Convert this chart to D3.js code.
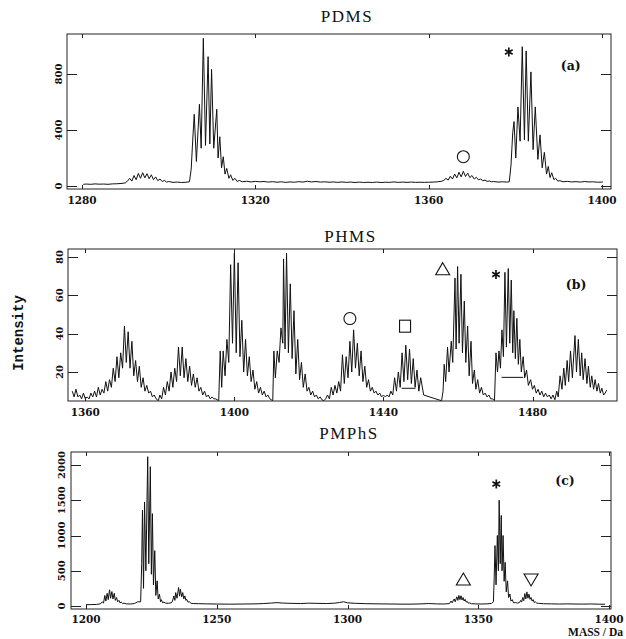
<!DOCTYPE html>
<html><head><meta charset="utf-8">
<script src="https://cdn.jsdelivr.net/npm/d3@7"></script>
<style>body{margin:0;background:#fff}svg{display:block}</style>
</head><body>
<svg id="chart" width="626" height="639"></svg>
<script>
// ---------- DATA (mass [Da], intensity) ----------
const pdmsSpectrum = [
[1280.3,12],[1281,14],[1282,12],[1283,15],[1284,13],[1285,14],[1286,12],[1287,15],[1288,16],[1289,18],[1290,22],
[1290.5,35],[1291,55],[1291.5,35],[1292,75],[1292.5,45],[1293,90],[1293.5,55],[1294,95],[1294.5,58],[1295,88],[1295.5,52],
[1296,80],[1296.5,45],[1297,65],[1297.5,38],[1298,50],[1298.5,32],[1299,40],[1299.5,28],[1300,32],[1301,26],[1302,28],[1303,25],[1304,27],
[1304.8,30],[1305.2,120],[1305.5,300],[1305.9,512],[1306.4,175],[1307.1,584],[1307.5,270],[1308.0,1055],[1308.5,290],[1309.1,924],
[1309.5,300],[1309.9,833],[1310.4,270],[1311.1,548],[1311.4,200],[1311.8,352],[1312.2,130],[1312.6,209],[1313.0,85],[1313.4,126],
[1313.9,55],[1314.3,80],[1314.8,40],[1315.3,55],[1315.8,32],[1316.3,40],
[1317,30],[1318,34],[1319,29],[1320,33],[1321,30],[1322,32],[1323,28],[1324,31],[1325,27],[1326,30],[1327,26],[1328,29],[1329,27],
[1330,31],[1331,28],[1332,34],[1333,29],[1334,32],[1335,28],[1336,30],[1337,27],[1338,29],[1339,26],[1340,29],[1341,26],[1342,28],
[1343,25],[1344,28],[1345,25],[1346,27],[1347,25],[1348,28],[1349,25],[1350,27],[1351,26],[1352,29],[1353,26],[1354,28],[1355,26],
[1356,28],[1357,26],[1358,27],[1359,26],[1360,27],[1361,28],[1362,30],[1363,34],
[1363.5,40],[1364,55],[1364.5,42],[1365,70],[1365.5,50],[1366,85],[1366.5,58],[1367,98],[1367.5,65],[1368,105],[1368.5,68],[1369,92],
[1369.5,60],[1370,75],[1370.5,50],[1371,62],[1371.5,44],[1372,50],[1372.5,38],[1373,42],[1373.5,33],[1374,36],[1374.5,30],[1375,32],
[1376,28],[1377,30],[1378,28],[1378.6,30],
[1379.0,150],[1379.4,380],[1379.7,460],[1380.1,200],[1380.6,565],[1381.1,320],[1381.6,995],[1382.1,330],[1382.5,965],[1383.0,320],
[1383.6,815],[1384.1,260],[1384.6,565],[1385.2,190],[1385.7,365],[1386.2,130],[1386.7,240],[1387.2,85],[1387.6,140],[1388.0,60],
[1388.4,95],[1388.9,45],[1389.3,55],[1389.8,35],[1390.3,38],[1391,30],[1392,33],[1393,29],[1394,31],[1395,28],[1396,32],[1397,29],
[1398,30],[1399,27],[1400,28],[1400.2,30]
];

const phmsSpectrum = [
[1356.5,10],[1357,7],[1357.5,11],[1358,7],[1358.5,8],[1359,6],[1359.5,9],[1360,6],[1360.5,7],[1361,6],[1361.5,9],[1362,7],
[1362.5,10],[1363,7],[1363.5,12],[1364,8],[1364.5,11],[1365,9],[1365.5,15],[1366,10],[1366.5,16],[1367,12],[1367.5,22],[1368,15],
[1368.5,28],[1369,17],[1369.5,30],[1370,22],[1370.5,44],[1371,25],[1371.5,41],[1372,22],[1372.5,36],[1373,18],[1373.5,26],[1374,15],
[1374.5,23],[1375,12],[1375.5,17],[1376,10],[1376.5,13],[1377,9],[1377.5,10],[1378,7],[1378.5,8],[1379,6],[1379.6,5],
[1380,8],[1380.5,6],[1381,12],[1381.5,8],[1382,15],[1382.5,10],[1383,20],[1383.5,12],[1384,22],[1384.5,15],[1385,33],[1385.5,18],
[1386,33],[1386.5,17],[1387,27],[1387.5,15],[1388,23],[1388.5,13],[1389,19],[1389.5,12],[1390,17],[1390.5,10],[1391,12],[1391.5,8],
[1392,10],[1392.5,7],[1393,8],[1393.5,6],[1394,7],[1394.5,6],[1395,6],[1395.8,5],
[1396.2,31],[1396.6,12],[1397,31],[1397.5,18],[1398,37],[1398.5,25],[1399,76],[1399.5,35],[1400,82],[1400.5,30],[1401,77],[1401.5,28],
[1402,47],[1402.5,20],[1403,37],[1403.5,18],[1404,28],[1404.5,15],[1405,21],[1405.5,11],[1406,15],[1406.5,9],[1407,12],[1407.5,8],
[1408,10],[1408.5,7],[1409,8],[1409.5,6],[1410.3,5],
[1410.6,31],[1411,17],[1411.5,31],[1412,25],[1412.5,43],[1413,35],[1413.2,79],[1413.6,32],[1414,82],[1414.5,30],[1415,66],[1415.5,27],
[1416,52],[1416.5,19],[1417,37],[1417.5,16],[1418,25],[1418.5,12],[1419,19],[1419.5,10],[1420,12],[1420.5,8],[1421,10],[1421.5,7],
[1422,8],[1422.5,6],[1423,7],[1423.5,5.5],[1424,5],
[1424.5,6],[1425,8],[1425.5,6],[1426,12],[1426.5,8],[1427,13],[1427.5,9],[1428,15],[1428.5,10],[1429,29],[1429.5,14],[1430,28],
[1430.5,17],[1431,36],[1431.5,20],[1432,42],[1432.5,22],[1433,35],[1433.5,18],[1434,31],[1434.5,15],[1435,23],[1435.5,12],[1436,16],
[1436.5,10],[1437,12],[1437.5,9],[1438,10],[1438.5,8],[1439,9],[1439.5,7],[1440,8],[1440.5,7],[1441,8],[1441.5,7],
[1442,10],[1442.5,8],[1443,17],[1443.5,10],[1444,20],[1444.5,12],[1445,30],[1445.5,15],[1446,34],[1446.5,16],[1447,32],[1447.5,14],
[1448,27],[1448.5,12],[1449,21],[1449.5,10],[1450,17],[1450.8,8],[1455.6,5],
[1456.0,10],[1456.3,24],[1456.7,15],[1457.2,33],[1457.6,20],[1458.2,36],[1458.6,25],[1459.2,69],[1459.5,32],[1459.9,75],[1460.3,35],
[1460.8,71],[1461.2,30],[1461.7,57],[1462.1,25],[1462.6,44],[1463.0,18],[1463.5,36],[1463.9,14],[1464.4,21],[1464.8,11],[1465.3,16],
[1465.8,9],[1466.3,12],[1466.8,8],[1467.3,9],[1467.8,7],[1468.3,8],[1468.8,6],[1469.3,6],[1469.8,5],
[1470.2,30],[1470.6,20],[1471.0,31],[1471.4,22],[1471.8,42],[1472.2,28],[1472.6,72],[1473.0,33],[1473.5,74],[1473.9,35],[1474.3,68],
[1474.7,30],[1475.0,52],[1475.4,27],[1475.8,48],[1476.2,24],[1476.6,37],[1477.0,20],[1477.5,28],[1477.9,17],[1478.4,21],[1478.9,13],
[1479.5,16],[1480.0,11],[1480.5,13],[1481.0,9],[1481.5,11],[1482.0,8],[1482.5,10],[1483,7],[1483.5,9],[1484,7],[1484.5,8],[1485,6],
[1485.5,8],[1486,5.5],
[1486.5,10],[1486.9,7],[1487.4,18],[1487.9,11],[1488.4,22],[1488.8,13],[1489.3,26],[1489.7,15],[1490.2,31],[1490.7,17],[1491.4,39],
[1491.8,20],[1492.3,37],[1492.8,18],[1493.2,30],[1493.6,16],[1494.1,27],[1494.6,14],[1495.0,23],[1495.5,12],[1495.9,18],[1496.4,11],
[1496.8,16],[1497.3,10],[1497.7,14],[1498.2,9],[1498.6,11.5],[1499.1,8],[1499.5,9],[1499.9,10.5]
];
const phmsBrackets = [
[[1444.9,11.5],[1448.6,11.5]],
[[1471.7,17.2],[1477.5,17.2]]
];

const pmphsSpectrum = [
[1200,18],[1202,20],[1204,22],[1205.5,30],
[1206.3,60],[1206.7,40],[1207.2,150],[1207.6,70],[1208.1,180],[1208.5,90],[1209.0,230],[1209.4,110],[1209.9,205],[1210.3,100],
[1210.8,180],[1211.2,80],[1211.7,120],[1212.1,60],[1212.6,80],[1213.0,45],[1213.5,55],[1214,35],[1214.5,40],[1215.5,30],[1217,28],
[1218.5,35],[1219.8,60],[1220.9,60],[1221.3,600],[1221.6,1357],[1222.0,250],[1222.4,1476],[1222.9,500],[1223.6,2118],[1224.0,600],
[1224.6,1976],[1225.0,450],[1225.4,1310],[1225.8,300],[1226.3,785],[1226.7,150],[1227.2,357],[1227.6,100],[1228.1,167],[1228.5,60],
[1228.8,90],[1229.3,45],[1229.8,55],[1230.5,40],[1231.5,38],[1232.5,45],
[1233.0,60],[1233.6,143],[1234.0,80],[1234.3,190],[1234.8,110],[1235.4,262],[1235.8,140],[1236.1,238],[1236.6,130],[1237.0,190],
[1237.4,100],[1237.8,143],[1238.2,80],[1238.5,95],[1239.0,55],[1239.5,60],[1240.2,38],[1241,35],
[1243,33],[1246,30],[1250,28],[1255,26],[1260,28],[1265,30],[1268,35],[1271,42],[1273,48],[1275,42],[1278,38],[1282,35],[1285,40],
[1288,38],[1292,35],[1295,40],[1297,50],[1298.5,60],[1300,45],[1303,38],[1307,33],[1312,30],[1317,28],[1322,26],[1327,28],[1331,35],
[1334,30],[1337,28],[1339,35],
[1339.6,70],[1340.0,45],[1340.8,100],[1341.2,60],[1341.8,130],[1342.2,80],[1342.6,150],[1343.0,90],[1343.4,145],[1343.8,85],
[1344.2,120],[1344.6,70],[1345.0,95],[1345.4,55],[1345.8,65],[1346.2,40],[1346.6,45],[1347.4,32],[1349,30],[1351,28],[1353,30],
[1355.0,35],[1355.8,60],[1356.1,400],[1356.4,857],[1356.8,300],[1357.3,1000],[1357.7,500],[1358.0,1500],[1358.4,600],[1358.8,1285],
[1359.1,500],[1359.5,1000],[1359.9,350],[1360.3,620],[1360.7,200],[1361.2,357],[1361.6,120],[1362.1,170],[1362.5,70],[1363.0,90],
[1363.5,45],[1364.2,50],[1365,40],
[1365.8,50],[1366.2,80],[1366.6,55],[1367.0,120],[1367.4,75],[1367.8,176],[1368.2,100],[1368.6,200],[1369.0,110],[1369.4,167],
[1369.8,95],[1370.2,120],[1370.6,70],[1371.0,90],[1371.4,50],[1371.8,60],[1372.4,40],[1373,38],
[1375,32],[1378,30],[1381,28],[1384,30],[1387,28],[1390,27],[1393,29],[1396,26],[1398.5,25]
];

// tick values
const pdmsTicksX = [1280,1320,1360,1400];
const pdmsTicksY = [0,400,800];
const phmsTicksX = [1360,1400,1440,1480];
const phmsTicksY = [20,40,60,80];
const pmphsTicksX = [1200,1250,1300,1350,1400];
const pmphsTicksY = [0,500,1000,1500,2000];

// annotation markers [type, mass, intensity]
const pdmsMarkers = [["asterisk",1378.5,957],["circle",1368.0,209]];
const phmsMarkers = [["circle",1431.0,47.9],["square",1445.8,43.9],["triangle",1455.9,73.9],["asterisk",1470.2,70.9]];
const pmphsMarkers = [["asterisk",1356.9,1730],["triangle",1344.3,383],["itriangle",1370.2,369]];

const titles = ["PDMS","PHMS","PMPhS"];
const panelTags = [["(a)",1392.8,864],["(b)",1491.7,66.1],["(c)",1383.2,1787]];

// ---------- LAYOUT ----------
const panels = [
  {data:pdmsSpectrum, tx:pdmsTicksX, ty:pdmsTicksY, markers:pdmsMarkers, tag:panelTags[0], title:titles[0],
   frame:{l:67,r:611,t:34,b:189}, xd:[1280,1400], xr:[82,602], yd:[0,800], yr:[186,74], titleY:22, tickLabX:62, labY:204},
  {data:phmsSpectrum, tx:phmsTicksX, ty:phmsTicksY, markers:phmsMarkers, tag:panelTags[1], title:titles[1], brackets:phmsBrackets,
   frame:{l:68,r:617,t:249,b:401}, xd:[1360,1480], xr:[85.3,532.5], yd:[20,80], yr:[372,257], titleY:242, tickLabX:63, labY:416},
  {data:pmphsSpectrum, tx:pmphsTicksX, ty:pmphsTicksY, markers:pmphsMarkers, tag:panelTags[2], title:titles[2],
   frame:{l:71,r:611,t:452,b:609}, xd:[1200,1400], xr:[86,609], yd:[0,2000], yr:[606,465], titleY:439, tickLabX:65, labY:623}
];

const svg = d3.select("#chart");
const monoFont = "'Liberation Mono','DejaVu Sans Mono',monospace";
const serifFont = "'Liberation Serif','DejaVu Serif',serif";
const tickFont = "'DejaVu Serif','Liberation Serif',serif";

panels.forEach((p,i)=>{
  const x = d3.scaleLinear().domain(p.xd).range(p.xr);
  const y = d3.scaleLinear().domain(p.yd).range(p.yr);
  const f = p.frame;
  const g = svg.append("g");

  // title
  g.append("text").attr("x",(f.l+f.r)/2+8).attr("y",p.titleY)
    .attr("text-anchor","middle").attr("font-family",serifFont).attr("font-size",17)
    .attr("letter-spacing",1.5).attr("fill","#111").text(p.title);

  // clip
  svg.append("clipPath").attr("id","clip"+i).append("rect")
    .attr("x",f.l).attr("y",f.t).attr("width",f.r-f.l).attr("height",f.b-f.t);

  // spectrum line
  const line = d3.line().x(d=>x(d[0])).y(d=>y(d[1]));
  g.append("path").datum(p.data).attr("d",line).attr("fill","none")
    .attr("stroke","#111").attr("stroke-width",1).attr("stroke-linejoin","miter")
    .attr("clip-path","url(#clip"+i+")");

  if(p.brackets){
    p.brackets.forEach(b=>{
      g.append("path").datum(b).attr("d",line).attr("fill","none").attr("stroke","#111").attr("stroke-width",1);
    });
  }

  // frame
  g.append("rect").attr("x",f.l).attr("y",f.t).attr("width",f.r-f.l).attr("height",f.b-f.t)
    .attr("fill","none").attr("stroke","#222").attr("stroke-width",1);

  // y ticks (inside, both sides)
  p.ty.forEach(v=>{
    const yy = Math.round(y(v))+0.5;
    g.append("line").attr("x1",f.l).attr("x2",f.l+10).attr("y1",yy).attr("y2",yy).attr("stroke","#222");
    g.append("line").attr("x1",f.r-10).attr("x2",f.r).attr("y1",yy).attr("y2",yy).attr("stroke","#222");
    g.append("text").attr("transform",`translate(${p.tickLabX},${y(v)}) rotate(-90)`)
      .attr("text-anchor","middle").attr("font-family",tickFont).attr("font-weight","bold")
      .attr("font-size",10).attr("fill","#111").text(v);
  });
  // x ticks (inside, top and bottom)
  p.tx.forEach(v=>{
    const xx = Math.round(x(v))+0.5;
    g.append("line").attr("x1",xx).attr("x2",xx).attr("y1",f.b).attr("y2",f.b-4).attr("stroke","#222");
    g.append("line").attr("x1",xx).attr("x2",xx).attr("y1",f.t).attr("y2",f.t+4).attr("stroke","#222");
    g.append("text").attr("x",x(v)).attr("y",p.labY).attr("text-anchor","middle")
      .attr("font-family",tickFont).attr("font-weight","bold").attr("font-size",10.5).attr("fill","#111").text(v);
  });

  // markers
  p.markers.forEach(([type,m,v])=>{
    const cx = x(m), cy = y(v);
    if(type==="circle"){
      g.append("circle").attr("cx",cx).attr("cy",cy).attr("r",6).attr("fill","none").attr("stroke","#111").attr("stroke-width",1.1);
    } else if(type==="square"){
      g.append("rect").attr("x",cx-5.5).attr("y",cy-6).attr("width",11).attr("height",12).attr("fill","none").attr("stroke","#111").attr("stroke-width",1.1);
    } else if(type==="triangle"){
      g.append("path").attr("d",`M${cx},${cy-6}L${cx+7},${cy+6}L${cx-7},${cy+6}Z`).attr("fill","none").attr("stroke","#111").attr("stroke-width",1.1);
    } else if(type==="itriangle"){
      g.append("path").attr("d",`M${cx-7},${cy-6}L${cx+7},${cy-6}L${cx},${cy+6}Z`).attr("fill","none").attr("stroke","#111").attr("stroke-width",1.1);
    } else if(type==="asterisk"){
      g.append("path").attr("transform",`translate(${cx},${cy})`)
        .attr("d",d3.symbol().type(d3.symbolAsterisk).size(55)()).attr("fill","none").attr("stroke","#111").attr("stroke-width",1.7);
    }
  });

  // panel tag
  g.append("text").attr("x",x(p.tag[1])).attr("y",y(p.tag[2])+5).attr("text-anchor","middle")
    .attr("font-family",tickFont).attr("font-weight","bold").attr("font-size",12.5).attr("fill","#111").text(p.tag[0]);
});

// axis titles
svg.append("text").attr("transform","translate(23,333) rotate(-90)").attr("text-anchor","middle")
  .attr("font-family",monoFont).attr("font-weight","bold").attr("font-size",14).attr("fill","#111").text("Intensity");
svg.append("text").attr("x",623).attr("y",636).attr("text-anchor","end")
  .attr("font-family",serifFont).attr("font-weight","bold").attr("font-size",11.5).attr("fill","#111").text("MASS / Da");
</script>
</body></html>
